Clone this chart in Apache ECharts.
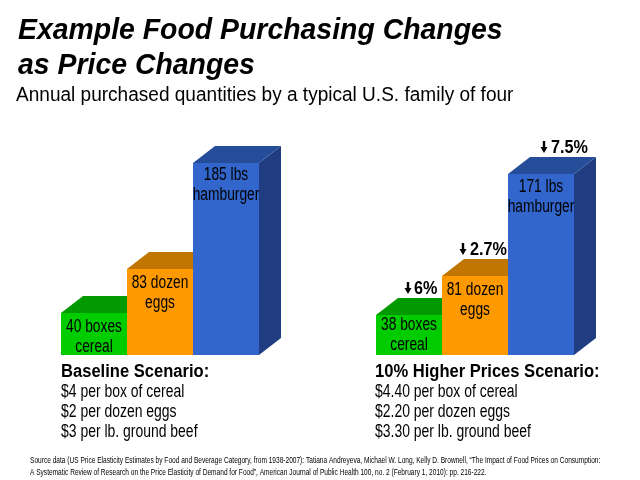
<!DOCTYPE html>
<html lang="en">
<head>
    <meta charset="UTF-8" />
    <title>Example Food Purchasing Changes as Price Changes</title>
    <script src="https://cdn.jsdelivr.net/npm/echarts@6.0.0/dist/echarts.min.js"></script>
    <style>
        html, body { margin: 0; padding: 0; background: #fff; }
        #chart { width: 640px; height: 480px; }
    </style>
</head>
<body>
    <div id="chart"></div>
    <script>
        const titleLines = ['Example Food Purchasing Changes', 'as Price Changes'];
        const subtitle = 'Annual purchased quantities by a typical U.S. family of four';
        const categories = ['cereal', 'eggs', 'hamburger'];

        // bar heights as drawn in the picture
        const baselineHeights = [42, 86, 192];
        const higherHeights = [40, 79, 181];

        const baselineLabels = [['40 boxes', 'cereal'], ['83 dozen', 'eggs'], ['185 lbs', 'hamburger']];
        const higherLabels = [['38 boxes', 'cereal'], ['81 dozen', 'eggs'], ['171 lbs', 'hamburger']];
        const higherChanges = ['6%', '2.7%', '7.5%'];

        const baselineLines = ['Baseline Scenario:', '$4 per box of cereal', '$2 per dozen eggs', '$3 per lb. ground beef'];
        const higherLines = ['10% Higher Prices Scenario:', '$4.40 per box of cereal', '$2.20 per dozen eggs', '$3.30 per lb. ground beef'];
        const sourceLines = [
            'Source data (US Price Elasticity Estimates by Food and Beverage Category, from 1938-2007): Tatiana Andreyeva, Michael W. Long, Kelly D. Brownell, “The Impact of Food Prices on Consumption:',
            'A Systematic Review of Research on the Price Elasticity of Demand for Food”, American Journal of Public Health 100, no. 2 (February 1, 2010): pp. 216-222.'
        ];

        const FRONT = ['#00cc00', '#ff9900', '#3366cc'];
        const TOP = ['#009900', '#c07600', '#264d99'];
        const SIDE = ['#007700', '#a06000', '#1f3d80'];
        const DX = 22, DY = 17;
        const FONT = '"Liberation Sans", Arial, sans-serif';

        // gap between bar top and first label line, per panel
        const baselineDy = [14, 14, 12];
        const higherDy = [10, 14, 13];
        // where the "down" marker sits, from the bar's left edge
        const changeTextX = [38, 28, 43];
        const changeArrowX = [32, 21, 36];
        const changeY = -26;

        function quad(points, fill) {
            return { type: 'polygon', shape: { points: points }, style: { fill: fill } };
        }

        function downArrow(cx, cy) {
            return quad([
                [cx - 1.2, cy - 6], [cx + 1.2, cy - 6], [cx + 1.2, cy], [cx + 3.5, cy],
                [cx, cy + 6], [cx - 3.5, cy], [cx - 1.2, cy]
            ], '#000');
        }

        function barRenderer(labels, labelDy, changes) {
            return function (params, api) {
                const i = api.value(0);
                const top = api.coord([i, api.value(1)]);
                const base = api.coord([i, 0]);
                const w = api.size([1, 0])[0];
                const l = top[0] - w / 2, r = top[0] + w / 2;
                const children = [
                    quad([[r, top[1]], [r + DX, top[1] - DY], [r + DX, base[1] - DY], [r, base[1]]], SIDE[i]),
                    quad([[l, top[1]], [l + DX, top[1] - DY], [r + DX, top[1] - DY], [r, top[1]]], TOP[i]),
                    { type: 'rect', shape: { x: l, y: top[1], width: w, height: base[1] - top[1] }, style: { fill: FRONT[i] } }
                ];
                labels[i].forEach((line, k) => {
                    children.push({
                        type: 'text', x: top[0], y: top[1] + labelDy[i] + k * 20, scaleX: 0.765,
                        style: { text: line, fill: '#000', font: '18px ' + FONT, align: 'center', verticalAlign: 'middle' }
                    });
                });
                if (changes) {
                    children.push(downArrow(l + changeArrowX[i], top[1] + changeY - 1));
                    children.push({
                        type: 'text', x: l + changeTextX[i], y: top[1] + changeY, scaleX: 0.9,
                        style: { text: changes[i], fill: '#000', font: 'bold 18px ' + FONT, align: 'left', verticalAlign: 'middle' }
                    });
                }
                return { type: 'group', children: children };
            };
        }

        function textEl(text, x, y, font, scaleX) {
            return {
                type: 'text', x: x, y: y, scaleX: scaleX || 1, silent: true,
                style: { text: text, fill: '#000', font: font + ' ' + FONT, verticalAlign: 'middle' }
            };
        }

        const graphics = [
            textEl(titleLines[0], 18, 31, 'italic bold 30px', 0.947),
            textEl(titleLines[1], 18, 66, 'italic bold 30px', 0.947),
            textEl(subtitle, 16, 95, '20px', 0.952)
        ];
        [[baselineLines, 61], [higherLines, 375]].forEach(([lines, x]) => {
            lines.forEach((line, k) => {
                graphics.push(k === 0
                    ? textEl(line, x, 372, 'bold 18px', 0.92)
                    : textEl(line, x, 372 + k * 20, '18px', 0.775));
            });
        });
        sourceLines.forEach((line, k) => {
            graphics.push(textEl(line, 30, 461 + k * 12, '9px', 0.73));
        });

        const chart = echarts.init(document.getElementById('chart'));
        const axisOff = { show: false };
        chart.setOption({
            animation: false,
            grid: [
                { left: 61, width: 198, top: 155, height: 200 },
                { left: 376, width: 198, top: 155, height: 200 }
            ],
            xAxis: [
                { type: 'category', gridIndex: 0, data: categories, ...axisOff },
                { type: 'category', gridIndex: 1, data: categories, ...axisOff }
            ],
            yAxis: [
                { type: 'value', gridIndex: 0, min: 0, max: 200, ...axisOff },
                { type: 'value', gridIndex: 1, min: 0, max: 200, ...axisOff }
            ],
            series: [
                {
                    type: 'custom', xAxisIndex: 0, yAxisIndex: 0, silent: true,
                    encode: { x: 0, y: 1 },
                    renderItem: barRenderer(baselineLabels, baselineDy),
                    data: baselineHeights.map((h, i) => [i, h])
                },
                {
                    type: 'custom', xAxisIndex: 1, yAxisIndex: 1, silent: true,
                    encode: { x: 0, y: 1 },
                    renderItem: barRenderer(higherLabels, higherDy, higherChanges),
                    data: higherHeights.map((h, i) => [i, h])
                }
            ],
            graphic: graphics
        });
    </script>
</body>
</html>
